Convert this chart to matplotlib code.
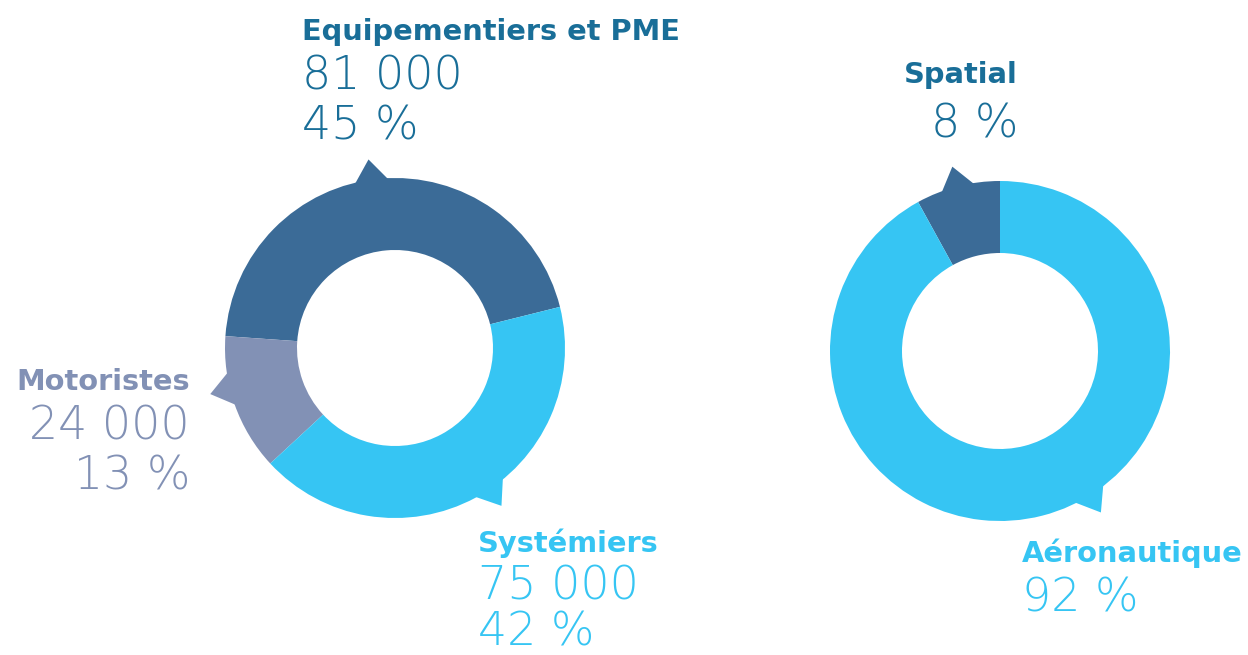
import numpy as np
import matplotlib
matplotlib.use('Agg')
import matplotlib.pyplot as plt

# data
left_labels = ['Equipementiers et PME', 'Motoristes', 'Systémiers']
left_counts = ['81 000', '24 000', '75 000']
left_pct = [45, 13, 42]
right_labels = ['Spatial', 'Aéronautique']
right_pct = [8, 92]

dark = '#3b6b97'
light = '#36c5f3'
grey = '#8291b5'
txt_dark = '#196e98'

W, H = 1248, 655
fig = plt.figure(figsize=(W / 100, H / 100), dpi=100)
ax = fig.add_axes([0, 0, 1, 1])

R = 170
ring = 72
c_left = (395, H - 348)
c_right = (1000, H - 351)

ax.pie(left_pct, colors=[dark, grey, light], startangle=14, counterclock=True,
       center=c_left, radius=R, wedgeprops=dict(width=ring, linewidth=0), frame=True)
ax.pie(right_pct, colors=[dark, light], startangle=90, counterclock=True,
       center=c_right, radius=R, wedgeprops=dict(width=ring, linewidth=0), frame=True)


def pointer(center, ang, col, half=7, tip=1.12):
    a0, a1 = np.radians(ang - half), np.radians(ang + half)
    am = np.radians(ang)
    xs = [center[0] + R * 0.97 * np.cos(a0), center[0] + R * tip * np.cos(am),
          center[0] + R * 0.97 * np.cos(a1)]
    ys = [center[1] + R * 0.97 * np.sin(a0), center[1] + R * tip * np.sin(am),
          center[1] + R * 0.97 * np.sin(a1)]
    ax.fill(xs, ys, color=col, lw=0)


pointer(c_left, 98, dark)
pointer(c_left, 194, grey)
pointer(c_left, 304, light)
pointer(c_right, 104.5, dark)
pointer(c_right, 302, light)

tfam = 'DejaVu Sans'
nfam = 'DejaVu Sans'
tsize = 20.8
nsize = 33


def label(x, y, title, lines, col, tcol, ha='left', step=50):
    ax.text(x, H - y, title, fontsize=tsize, fontweight='bold', family=tfam,
            color=tcol, ha=ha, va='baseline')
    for i, s in enumerate(lines):
        ax.text(x, H - y - step * (i + 1), s, fontsize=nsize, fontweight=200,
                family=nfam, color=col, ha=ha, va='baseline')


label(302, 40, left_labels[0], [left_counts[0], f'{left_pct[0]} %'], txt_dark, txt_dark)
label(190, 390, left_labels[1], [left_counts[1], f'{left_pct[1]} %'], grey, grey, ha='right')
label(478, 552, left_labels[2], [left_counts[2], f'{left_pct[2]} %'], light, light, step=47)
label(1018, 83, right_labels[0], [f'{right_pct[0]} %'], txt_dark, txt_dark, ha='right', step=54)
label(1022, 562, right_labels[1], [f'{right_pct[1]} %'], light, light)

ax.set_xlim(0, W)
ax.set_ylim(0, H)
ax.set_aspect('equal')
ax.axis('off')

plt.savefig('out.png', dpi=100)
